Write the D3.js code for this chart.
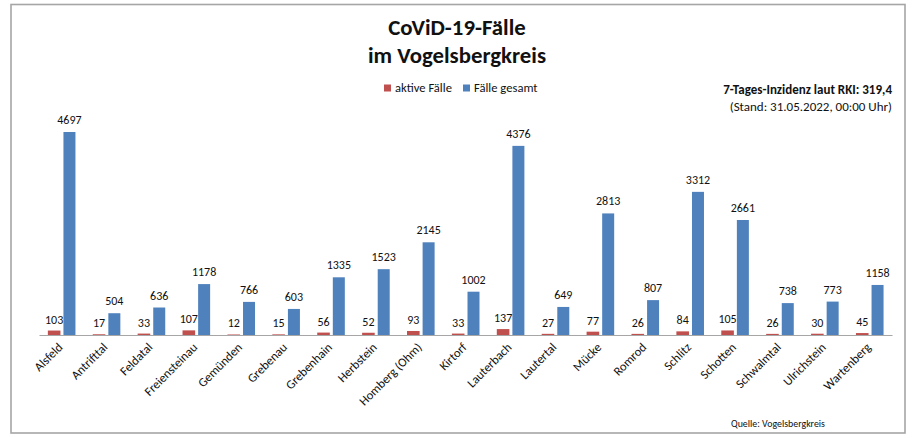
<!DOCTYPE html>
<html><head><meta charset="utf-8">
<script src="https://cdn.jsdelivr.net/npm/d3@7"></script>
<style>
html,body{margin:0;padding:0;background:#fff}
svg{display:block}
text{font-family:Carlito,Calibri,"Open Sans","Noto Sans",sans-serif;fill:#111}
</style></head><body>
<svg id="c" width="920" height="438"></svg>
<script>
const categories=["Alsfeld","Antrifttal","Feldatal","Freiensteinau","Gemünden","Grebenau","Grebenhain","Herbstein","Homberg (Ohm)","Kirtorf","Lauterbach","Lautertal","Mücke","Romrod","Schlitz","Schotten","Schwalmtal","Ulrichstein","Wartenberg"];
const activeCases=[103,17,33,107,12,15,56,52,93,33,137,27,77,26,84,105,26,30,45];
const totalCases=[4697,504,636,1178,766,603,1335,1523,2145,1002,4376,649,2813,807,3312,2661,738,773,1158];
const seriesNames=["aktive Fälle","Fälle gesamt"];
const titleLines=["CoViD-19-Fälle","im Vogelsbergkreis"];
const noteBold="7-Tages-Inzidenz laut RKI: 319,4";
const noteRegular="(Stand: 31.05.2022, 00:00 Uhr)";
const sourceText="Quelle: Vogelsbergkreis";
const RED="#c0504d",BLUE="#4f81bd";

const svg=d3.select("#c");
svg.append("rect").attr("x",11).attr("y",4.5).attr("width",894).attr("height",428.5)
  .attr("fill","#fff").attr("stroke","#a6a6a6").attr("stroke-width",1.6);

const x=d3.scaleBand().domain(categories).range([39,892]);
const y=d3.scaleLinear().domain([0,4697]).range([335,132]);

const g=svg.append("g");
categories.forEach((c,i)=>{
  const cx=x(c)+x.bandwidth()/2;
  const rx=cx-13.6, rw=12.6, bx=cx+2, bw=12;
  g.append("rect").attr("x",rx).attr("y",y(activeCases[i])).attr("width",rw).attr("height",y(0)-y(activeCases[i])).attr("fill",RED);
  g.append("rect").attr("x",bx).attr("y",y(totalCases[i])).attr("width",bw).attr("height",y(0)-y(totalCases[i])).attr("fill",BLUE);
  g.append("text").attr("x",rx+rw/2).attr("y",y(activeCases[i])-7).attr("text-anchor","middle").attr("font-size",12).text(activeCases[i]);
  g.append("text").attr("x",bx+bw/2).attr("y",y(totalCases[i])-8).attr("text-anchor","middle").attr("font-size",12).text(totalCases[i]);
});

const axis=svg.append("g").attr("transform","translate(0,335)").call(d3.axisBottom(x).tickSize(0).tickPadding(0));
axis.select(".domain").attr("stroke","#a6a6a6").attr("stroke-width",1.2);
axis.selectAll("text").attr("font-size",12.5).attr("text-anchor","end").attr("dy",0)
  .attr("transform","translate(2,13) rotate(-45)");

const t=svg.append("g").attr("text-anchor","middle");
titleLines.forEach((l,i)=>t.append("text").attr("x",457).attr("y",35+i*28).attr("font-size",22.8).attr("font-weight",700).text(l));

const lg=svg.append("g");
seriesNames.forEach((n,i)=>{
  const lx=[384,463][i];
  lg.append("rect").attr("x",lx).attr("y",84.5).attr("width",7).attr("height",7).attr("fill",[RED,BLUE][i]);
  lg.append("text").attr("x",lx+11).attr("y",92).attr("font-size",12.6).text(n);
});

svg.append("text").attr("x",892).attr("y",94).attr("text-anchor","end").attr("font-size",13).attr("font-weight",700).text(noteBold);
svg.append("text").attr("x",892).attr("y",111).attr("text-anchor","end").attr("font-size",13).text(noteRegular);
svg.append("text").attr("x",731).attr("y",427).attr("font-size",9.9).text(sourceText);
</script></body></html>
